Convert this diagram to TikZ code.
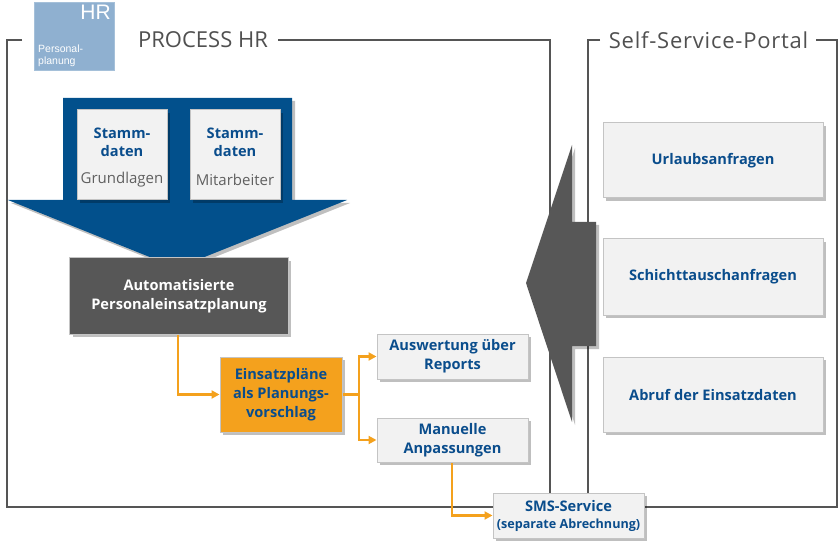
\documentclass[tikz,border=0pt]{standalone}
\usepackage{fontspec}
\setmainfont{Open Sans}
\newfontfamily\arialf{Liberation Sans}
\usetikzlibrary{arrows.meta,shadows}
\definecolor{framegray}{HTML}{555555}
\definecolor{titlegray}{HTML}{505050}
\definecolor{textblue}{HTML}{0A4D8C}
\definecolor{boxfill}{HTML}{F2F2F2}
\definecolor{boxborder}{HTML}{C4C4C4}
\definecolor{darkbox}{HTML}{575757}
\definecolor{orangec}{HTML}{F4A11D}
\definecolor{arrowblue}{HTML}{02508C}
\definecolor{hrblue}{HTML}{8FB0D0}
\definecolor{subgray}{HTML}{606060}
\tikzset{
  frameline/.style={draw=framegray, line width=2bp},
  shad/.style={drop shadow={shadow xshift=3bp, shadow yshift=-3bp, opacity=0.25, fill=black}},
  box/.style={draw=boxborder, fill=boxfill, line width=1bp, text=textblue, align=center,
    inner sep=0pt, font=\fontsize{14.6bp}{19bp}\selectfont\bfseries, shad},
  conn/.style={draw=orangec, line width=2.2bp, -{Triangle[length=8bp,width=8bp]}},
  connplain/.style={draw=orangec, line width=2.2bp},
  title/.style={text=titlegray, font=\fontsize{22bp}{26bp}\selectfont, inner sep=0pt},
}
\begin{document}
\begin{tikzpicture}[x=1bp,y=-1bp]
\useasboundingbox (0,0) rectangle (840,544);
% frames
\draw[frameline] (22,40) -- (7,40) -- (7,507) -- (837,507) -- (837,40) -- (816,40);
\draw[frameline] (278,40) -- (550,40) -- (550,507);
\draw[frameline] (600,40) -- (588,40) -- (588,507);
\node[title] (t1) at (203,40) {PROCESS HR};
\node[title, font=\fontsize{22bp}{26bp}\selectfont\addfontfeature{LetterSpace=3.5}] (t2) at (708.5,40) {Self-Service-Portal};
% HR box
\node[fill=hrblue, draw=hrblue!80!white, minimum width=80bp, minimum height=68bp, inner sep=0pt] (hr) at (74,36) {};
\node[text=white, font=\arialf\fontsize{21bp}{21bp}\selectfont, anchor=north east, inner sep=0pt] (hrt) at (111,5) {HR};
\node[text=white, font=\arialf\fontsize{10.5bp}{12bp}\selectfont, anchor=south west, align=left, inner sep=0pt] (hrs) at (38,67) {Personal-\\planung};
% big blue arrow
\fill[arrowblue, shad] (63,98) -- (292,98) -- (292,200) -- (347,200) -- (177,268) -- (8,200) -- (63,200) -- cycle;
\node[box, minimum width=90bp, minimum height=90bp] (sd1) at (122,155) {};
\node[box, minimum width=90bp, minimum height=90bp] (sd2) at (235,155) {};
\node[text=textblue, font=\fontsize{14.6bp}{18bp}\selectfont\bfseries, align=center] (sd1t) at (122,142) {Stamm-\\daten};
\node[text=subgray, font=\fontsize{15bp}{16bp}\selectfont] (sd1s) at (122,180) {Grundlagen};
\node[text=textblue, font=\fontsize{14.6bp}{18bp}\selectfont\bfseries, align=center] (sd2t) at (235,142) {Stamm-\\daten};
\node[text=subgray, font=\fontsize{15bp}{16bp}\selectfont] (sd2s) at (235,180) {Mitarbeiter};
% automatisierte
\node[box, fill=darkbox, text=white, minimum width=218bp, minimum height=76bp] (auto) at (179,296) {Automatisierte\\Personaleinsatzplanung};
% orange
\node[box, fill=orangec, minimum width=122bp, minimum height=75bp] (einsatz) at (281,394.5) {Einsatzpläne\\als Planungs-\\vorschlag};
\node[box, minimum width=151bp, minimum height=45bp] (ausw) at (452.5,356.5) {Auswertung über\\Reports};
\node[box, minimum width=151bp, minimum height=44bp] (manu) at (452.5,440) {Manuelle\\Anpassungen};
\node[box, minimum width=151bp, minimum height=45bp, font=\fontsize{14.6bp}{17bp}\selectfont\bfseries] (sms) at (568.5,515.5) {SMS-Service\\{\fontsize{12.6bp}{15bp}\selectfont(separate Abrechnung)}};
% connectors
\coordinate (j1) at (178,0);
\coordinate (split) at (359,394.5);
\coordinate (j2) at (452,0);
\draw[conn] (auto.south -| j1) |- (einsatz.west);
\draw[connplain] (einsatz.east) -- (split);
\draw[conn] (split) |- (ausw.west);
\draw[conn] (split) |- (manu.west);
\draw[conn] (manu.south -| j2) |- (sms.west);
% gray arrow
\fill[darkbox, shad] (596,222) -- (596,346) -- (572,346) -- (572,422) -- (526,283) -- (572,145) -- (572,222) -- cycle;
% right boxes
\node[box, minimum width=220bp, minimum height=75bp] (url) at (713,160.5) {Urlaubsanfragen};
\node[box, minimum width=220bp, minimum height=76bp] (sch) at (713,277) {Schichttauschanfragen};
\node[box, minimum width=220bp, minimum height=75bp] (abr) at (713,394.5) {Abruf der Einsatzdaten};
\end{tikzpicture}
\end{document}
